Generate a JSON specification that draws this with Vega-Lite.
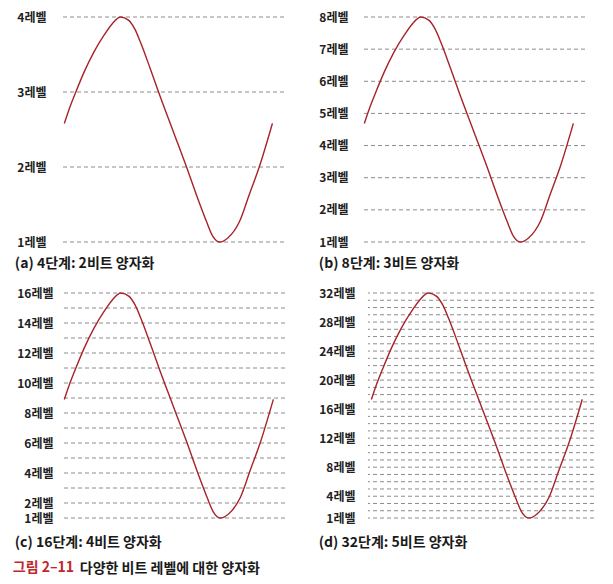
{
  "$schema": "https://vega.github.io/schema/vega-lite/v6.json",
  "background": "white",
  "padding": {"left": 12, "top": 11, "right": 5, "bottom": 4},
  "config": {
    "font": "Noto Sans CJK KR",
    "view": {"stroke": null},
    "axis": {"labelFontSize": 12, "labelFontWeight": "bold", "labelColor": "#222222", "labelFont": "Noto Sans CJK KR", "domain": false, "ticks": false, "grid": false, "title": null}
  },
  "datasets": {
    "wave": [
      {"t": 1.5, "f": 0.527},
      {"t": 4, "f": 0.6},
      {"t": 6.7, "f": 0.668},
      {"t": 10.4, "f": 0.756},
      {"t": 14.8, "f": 0.845},
      {"t": 19.3, "f": 0.919},
      {"t": 23, "f": 0.97},
      {"t": 26.7, "f": 1.0},
      {"t": 30.4, "f": 0.985},
      {"t": 33, "f": 0.948},
      {"t": 35.6, "f": 0.889},
      {"t": 40, "f": 0.771},
      {"t": 43.7, "f": 0.668},
      {"t": 50, "f": 0.5},
      {"t": 56.3, "f": 0.333},
      {"t": 60.7, "f": 0.21},
      {"t": 65.2, "f": 0.092},
      {"t": 68.1, "f": 0.025},
      {"t": 71.1, "f": 0.0},
      {"t": 74.8, "f": 0.018},
      {"t": 80, "f": 0.09},
      {"t": 84.4, "f": 0.21},
      {"t": 88.9, "f": 0.333},
      {"t": 94.8, "f": 0.527}
    ]
  },
  "title": {"text": "다양한 비트 레벨에 대한 양자화", "orient": "bottom", "anchor": "start", "fontSize": 14, "fontWeight": "bold", "color": "#1a1a1a", "dx": 67, "dy": -13, "offset": 0},
  "vconcat": [
    {
      "title": {"text": "그림 2–11", "orient": "bottom", "anchor": "start", "fontSize": 14, "fontWeight": "bold", "color": "#c1272d", "offset": 11, "dx": -2},
      "columns": 2,
      "align": "none",
      "spacing": {"row": 16, "column": 32},
      "concat": [
        {
          "width": 223, "height": 225,
          "title": {"text": "(a) 4단계: 2비트 양자화", "orient": "bottom", "anchor": "start", "fontSize": 14, "fontWeight": "bold", "color": "#1a1a1a", "offset": 9, "dx": -2},
          "layer": [
            {
              "data": {"values": [{"level": 1}, {"level": 2}, {"level": 3}, {"level": 4}]},
              "mark": {"type": "rule", "strokeDash": [4, 3], "color": "#8c8c8c", "strokeWidth": 1},
              "encoding": {"y": {"field": "level", "type": "quantitative", "scale": {"domain": [1, 4], "nice": false, "zero": false}, "axis": {"values": [1, 2, 3, 4], "labelExpr": "datum.value + '레벨'", "labelPadding": 15}}}
            },
            {
              "data": {"name": "wave"},
              "mark": {"type": "line", "color": "#a8222a", "strokeWidth": 1.4, "interpolate": "monotone"},
              "encoding": {
                "x": {"field": "t", "type": "quantitative", "scale": {"domain": [0, 100]}, "axis": null},
                "y": {"field": "f", "type": "quantitative", "scale": {"domain": [0, 1], "nice": false}, "axis": null}
              }
            }
          ],
          "resolve": {"scale": {"y": "independent"}}
        },
        {
          "width": 224, "height": 225,
          "title": {"text": "(b) 8단계: 3비트 양자화", "orient": "bottom", "anchor": "start", "fontSize": 14, "fontWeight": "bold", "color": "#1a1a1a", "offset": 9, "dx": 0},
          "layer": [
            {
              "data": {"values": [{"level": 1}, {"level": 2}, {"level": 3}, {"level": 4}, {"level": 5}, {"level": 6}, {"level": 7}, {"level": 8}]},
              "mark": {"type": "rule", "strokeDash": [4, 3], "color": "#8c8c8c", "strokeWidth": 1},
              "encoding": {"y": {"field": "level", "type": "quantitative", "scale": {"domain": [1, 8], "nice": false, "zero": false}, "axis": {"values": [1, 2, 3, 4, 5, 6, 7, 8], "labelExpr": "datum.value + '레벨'", "labelPadding": 13}}}
            },
            {
              "data": {"name": "wave"},
              "mark": {"type": "line", "color": "#a8222a", "strokeWidth": 1.4, "interpolate": "monotone"},
              "encoding": {
                "x": {"field": "t", "type": "quantitative", "scale": {"domain": [0, 100]}, "axis": null},
                "y": {"field": "f", "type": "quantitative", "scale": {"domain": [0, 1], "nice": false}, "axis": null}
              }
            }
          ],
          "resolve": {"scale": {"y": "independent"}}
        },
        {
          "width": 224, "height": 225,
          "title": {"text": "(c) 16단계: 4비트 양자화", "orient": "bottom", "anchor": "start", "fontSize": 14, "fontWeight": "bold", "color": "#1a1a1a", "offset": 12, "dx": -2},
          "layer": [
            {
              "data": {"values": [{"level": 1}, {"level": 2}, {"level": 3}, {"level": 4}, {"level": 5}, {"level": 6}, {"level": 7}, {"level": 8}, {"level": 9}, {"level": 10}, {"level": 11}, {"level": 12}, {"level": 13}, {"level": 14}, {"level": 15}, {"level": 16}]},
              "mark": {"type": "rule", "strokeDash": [4, 3], "color": "#8c8c8c", "strokeWidth": 1},
              "encoding": {"y": {"field": "level", "type": "quantitative", "scale": {"domain": [1, 16], "nice": false, "zero": false}, "axis": {"values": [1, 2, 4, 6, 8, 10, 12, 14, 16], "labelExpr": "datum.value + '레벨'", "labelPadding": 8}}}
            },
            {
              "data": {"name": "wave"},
              "mark": {"type": "line", "color": "#a8222a", "strokeWidth": 1.4, "interpolate": "monotone"},
              "encoding": {
                "x": {"field": "t", "type": "quantitative", "scale": {"domain": [0, 100]}, "axis": null},
                "y": {"field": "f", "type": "quantitative", "scale": {"domain": [0, 1], "nice": false}, "axis": null}
              }
            }
          ],
          "resolve": {"scale": {"y": "independent"}}
        },
        {
          "width": 226, "height": 225,
          "title": {"text": "(d) 32단계: 5비트 양자화", "orient": "bottom", "anchor": "start", "fontSize": 14, "fontWeight": "bold", "color": "#1a1a1a", "offset": 12, "dx": 0},
          "layer": [
            {
              "data": {"values": [{"level": 1}, {"level": 2}, {"level": 3}, {"level": 4}, {"level": 5}, {"level": 6}, {"level": 7}, {"level": 8}, {"level": 9}, {"level": 10}, {"level": 11}, {"level": 12}, {"level": 13}, {"level": 14}, {"level": 15}, {"level": 16}, {"level": 17}, {"level": 18}, {"level": 19}, {"level": 20}, {"level": 21}, {"level": 22}, {"level": 23}, {"level": 24}, {"level": 25}, {"level": 26}, {"level": 27}, {"level": 28}, {"level": 29}, {"level": 30}, {"level": 31}, {"level": 32}]},
              "mark": {"type": "rule", "strokeDash": [4, 3], "color": "#8c8c8c", "strokeWidth": 1},
              "encoding": {"y": {"field": "level", "type": "quantitative", "scale": {"domain": [1, 32], "nice": false, "zero": false}, "axis": {"values": [1, 4, 8, 12, 16, 20, 24, 28, 32], "labelExpr": "datum.value + '레벨'", "labelPadding": 13}}}
            },
            {
              "data": {"name": "wave"},
              "mark": {"type": "line", "color": "#a8222a", "strokeWidth": 1.4, "interpolate": "monotone"},
              "encoding": {
                "x": {"field": "t", "type": "quantitative", "scale": {"domain": [0, 100]}, "axis": null},
                "y": {"field": "f", "type": "quantitative", "scale": {"domain": [0, 1], "nice": false}, "axis": null}
              }
            }
          ],
          "resolve": {"scale": {"y": "independent"}}
        }
      ]
    }
  ]
}
